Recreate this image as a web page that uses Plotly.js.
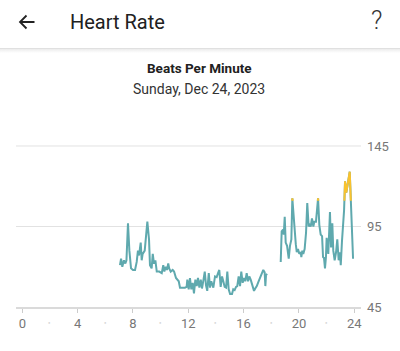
<!DOCTYPE html>
<html>
<head>
<meta charset="utf-8">
<script src="https://cdn.plot.ly/plotly-3.0.1.min.js"></script>
<style>
  html, body { margin: 0; padding: 0; background: #fff; width: 400px; height: 351px; overflow: hidden; }
  #chart { position: absolute; left: 0; top: 0; width: 400px; height: 351px; }
  #header { position: absolute; left: 0; top: 0; width: 400px; height: 48px; background: #fff; z-index: 5; font-family: Roboto, sans-serif; }
  #title { position: absolute; left: 70px; top: 8px; font-size: 20px; color: #212121; line-height: 28px; }
  #help { position: absolute; left: 371px; top: 5px; font-size: 25px; font-weight: 300; color: #333; line-height: 32px; }
  #arrow { position: absolute; left: 18px; top: 13px; }
  #line { position: absolute; left: 0; top: 48px; width: 400px; height: 1px; background: #e0e0e0; z-index: 5; }
  #shadow { position: absolute; left: 0; top: 49px; width: 400px; height: 4px; background: linear-gradient(#ececec, rgba(255,255,255,0)); z-index: 5; }
</style>
</head>
<body>
<div id="chart"></div>
<div id="header">
  <svg id="arrow" width="18" height="18" viewBox="0 0 18 18">
    <path d="M16.5 9 H2 M8.5 2.5 L2 9 L8.5 15.5" stroke="#222" stroke-width="1.8" fill="none" stroke-linecap="butt"/>
  </svg>
  <div id="title">Heart Rate</div>
  <div id="help">?</div>
</div>
<div id="line"></div>
<div id="shadow"></div>
<script>
// Daytime series (hours of day, beats per minute)
var hoursA = [7.06,7.14,7.23,7.35,7.45,7.53,7.64,7.74,7.86,8.0,8.15,8.27,8.36,8.44,8.56,8.63,8.70,8.85,9.04,9.16,9.23,9.35,9.43,9.52,9.62,9.72,9.90,10.08,10.19,10.27,10.37,10.46,10.55,10.62,10.73,10.87,10.97,11.11,11.31,11.40,11.76,11.88,11.93,12.03,12.12,12.22,12.32,12.41,12.51,12.61,12.70,12.80,12.90,12.99,13.09,13.19,13.28,13.37,13.48,13.57,13.66,13.81,13.93,14.05,14.15,14.24,14.34,14.44,14.53,14.63,14.73,14.82,14.92,15.02,15.16,15.25,15.35,15.45,15.54,15.64,15.74,15.83,15.93,16.03,16.12,16.22,16.32,16.41,16.51,16.66,16.75,16.84,16.95,17.06,17.18,17.33,17.42,17.52,17.57,17.62,17.71];
var bpmA   = [71,75,70,74,72,74,97,80,69,68,68,73,80,77,85,74,78,80,98,87,71,69,78,72,74,67,67,66,71,67,70,68,72,69,67,68,67,63,61,57,57,57.5,62,56,63,56,60,53.5,62,58,63,57,62,56.5,61.5,67,58.5,55,66,57,61,57,64,63.5,66,68,57.5,64,61,57.5,57,67,56,53,53,56,55.5,57.5,58,64,58,67,60,63,61,66,61,64,62,56.5,55,56.5,58,60.5,63,66,68,66.5,58,65,65.5];
// Evening series
var hoursB = [18.68,18.75,18.85,18.90,18.97,19.04,19.14,19.26,19.35,19.45,19.52,19.62,19.69,19.77,19.84,19.93,20.02,20.13,20.17,20.24,20.31,20.41,20.51,20.60,20.70,20.77,20.85,20.94,21.04,21.11,21.23,21.38,21.47,21.57,21.67,21.74,21.81,21.88,21.95,22.0,22.08,22.12,22.24,22.32,22.41,22.48,22.58,22.68,22.77,22.87,22.97,23.02,23.11,23.26,23.33,23.42,23.50,23.57,23.67,23.71,23.76,23.81,23.91];
var bpmB   = [73,92,93,90,101,85,83,75,83,87,112.5,98,89,84,79,81,78,79,76,80,78,81,91,109.5,95,96,95,100,95,98,98,112.5,96,90,89,76,75.5,69,76,88,82,78,104,82,97,80,74,79,87,74,79,71,86,105,123,116,120,125,129,120,110,89,75];
// Threshold above which the line is highlighted
var highThreshold = 111;
// Axis ticks
var xTicks = [0,4,8,12,16,20,24];
var xDots = [2,6,10,14,18,22];
var yTicks = [45,95,145];

var teal = '#5fa9ae';
var yellow = '#f9c22e';

var traces = [
  {x: hoursA, y: bpmA, type: 'scatter', mode: 'lines', line: {color: teal, width: 2}, hoverinfo: 'skip', xaxis: 'x', yaxis: 'y'},
  {x: hoursB, y: bpmB, type: 'scatter', mode: 'lines', line: {color: teal, width: 2}, hoverinfo: 'skip', xaxis: 'x', yaxis: 'y'},
  {x: hoursA, y: bpmA, type: 'scatter', mode: 'lines', line: {color: yellow, width: 2}, hoverinfo: 'skip', xaxis: 'x', yaxis: 'y2'},
  {x: hoursB, y: bpmB, type: 'scatter', mode: 'lines', line: {color: yellow, width: 2}, hoverinfo: 'skip', xaxis: 'x', yaxis: 'y2'}
];

var plotTop = 145, plotBottom = 307, plotH = plotBottom - plotTop;
function py(p) { return (plotBottom - p) / plotH; }
var yMin = 45, yMax = 145.6;

var annotations = [
  {text: '<b>Beats Per Minute</b>', xref: 'paper', yref: 'paper', x: (199 - 16) / 345, y: py(68), showarrow: false,
   xanchor: 'center', yanchor: 'middle', font: {family: 'Roboto', size: 13.5, color: '#212121'}},
  {text: 'Sunday, Dec 24, 2023', xref: 'paper', yref: 'paper', x: (199 - 16) / 345, y: py(89), showarrow: false,
   xanchor: 'center', yanchor: 'middle', font: {family: 'Roboto', size: 14, color: '#333333'}}
];
xDots.forEach(function (d) {
  annotations.push({text: '●', xref: 'x', yref: 'paper', x: d, y: py(322.5), showarrow: false,
    xanchor: 'center', yanchor: 'middle', font: {size: 4, color: '#d3d3d3'}});
});

// Grid lines drawn as shapes so the top one is not dropped at the plot edge
var shapes = yTicks.slice(1).map(function (v) {
  return {type: 'line', xref: 'paper', x0: 0, x1: 1, yref: 'y', y0: v, y1: v,
          line: {color: '#e2e2e2', width: 1}, layer: 'below'};
});

var layout = {
  width: 400, height: 351,
  margin: {l: 16, r: 39, t: plotTop, b: 351 - plotBottom, pad: 0},
  paper_bgcolor: '#ffffff', plot_bgcolor: 'rgba(0,0,0,0)',
  showlegend: false,
  xaxis: {
    range: [-0.455, 24.484], tickvals: xTicks, ticktext: xTicks.map(String),
    ticks: 'outside', ticklen: 4, tickwidth: 1, tickcolor: '#cccccc',
    showline: true, linecolor: '#dadada', linewidth: 1.5,
    showgrid: false, zeroline: false, fixedrange: true,
    tickfont: {family: 'Roboto', size: 13, color: '#777777'}, anchor: 'y'
  },
  yaxis: {
    domain: [0, 1], range: [yMin, yMax], side: 'right', tickvals: yTicks,
    showgrid: false, zeroline: false,
    ticks: '', ticklabelstandoff: 5, fixedrange: true, showline: false,
    tickfont: {family: 'Roboto', size: 13, color: '#777777'}, anchor: 'x'
  },
  yaxis2: {
    domain: [(highThreshold - yMin) / (yMax - yMin), 1], range: [highThreshold, yMax],
    visible: false, showgrid: false, zeroline: false, fixedrange: true, anchor: 'x'
  },
  shapes: shapes,
  annotations: annotations
};

Plotly.newPlot('chart', traces, layout, {displayModeBar: false, staticPlot: true});
</script>
</body>
</html>
